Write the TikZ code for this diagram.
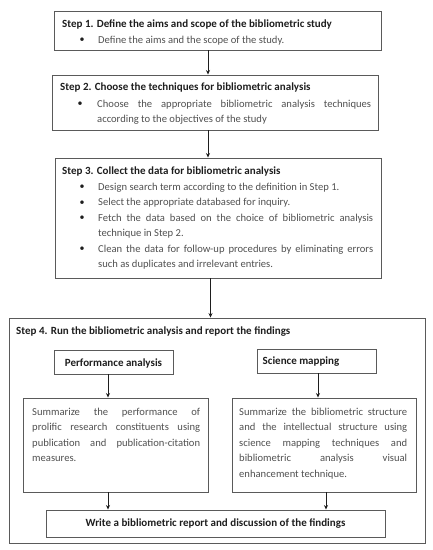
\documentclass[tikz,border=0pt]{standalone}
\usepackage{fontspec}
\setmainfont{Carlito}
\usetikzlibrary{arrows.meta}
\definecolor{bordergray}{HTML}{5A5A5A}
\definecolor{bodygray}{HTML}{505050}
\definecolor{headdark}{HTML}{1E1E1E}
\newcommand{\nohyph}{\hyphenpenalty=10000\relax\exhyphenpenalty=10000\relax}
\tikzset{
  box/.style={draw=bordergray, line width=0.9pt, inner sep=0pt},
  head/.style={anchor=base west, inner sep=0pt, text=headdark, font=\fontsize{11}{15.5}\selectfont\bfseries},
  body/.style={anchor=north west, inner sep=0pt, text=bodygray, align=justify, font=\fontsize{10.6}{15.5}\selectfont\nohyph},
  bul/.style={anchor=base, inner sep=0pt, text=headdark, font=\fontsize{10}{15.5}\selectfont},
  arr/.style={draw=headdark, line width=0.8pt, -{Stealth[length=4.5pt,width=4pt]}}
}
\newcommand{\boxat}[5]{\node[box, minimum width={#4-#2}, minimum height={#5-#3}] (#1) at ({(#2+#4)/2},{(#3+#5)/2}) {};}
\begin{document}
\begin{tikzpicture}[x=1pt,y=-1pt]
\useasboundingbox (0,0) rectangle (432,550);
% boxes
\boxat{b1}{54}{11}{381}{50}
\boxat{b2}{52}{75}{378}{130}
\boxat{b3}{55}{158}{381}{278}
\boxat{b4}{9}{318}{425}{543}
\boxat{pa}{54}{350}{173}{374}
\boxat{sm}{257}{349}{376}{373}
\boxat{ls}{23}{398}{208}{492}
\boxat{rs}{232}{398}{416}{492}
\boxat{wr}{46}{510}{385}{537}
% box 1
\node[head] (h1) at (62,27.8) {Step 1. Define the aims and scope of the bibliometric study};
\node[bul] (u11) at (82,42.5) {\textbullet};
\node[body, text width=275pt] (t11) at (98,32) {\strut Define the aims and the scope of the study.};
% box 2
\node[head] (h2) at (60,90.8) {Step 2. Choose the techniques for bibliometric analysis};
\node[bul] (u21) at (80,106.5) {\textbullet};
\node[body, text width=274pt] (t21) at (97,96) {\strut Choose the appropriate bibliometric analysis techniques\linebreak according to the objectives of the study};
% box 3
\node[head] (h3) at (62,174.5) {Step 3. Collect the data for bibliometric analysis};
\node[bul] (u31) at (82,189.5) {\textbullet};
\node[body, text width=275pt] (t31) at (98,179) {\strut Design search term according to the definition in Step 1.};
\node[bul] (u32) at (82,205) {\textbullet};
\node[body, text width=275pt] (t32) at (98,194.5) {\strut Select the appropriate databased for inquiry.};
\node[bul] (u33) at (82,220.5) {\textbullet};
\node[body, text width=275pt] (t33) at (98,210) {\strut Fetch the data based on the choice of bibliometric analysis\linebreak technique in Step 2.};
\node[bul] (u34) at (82,251.5) {\textbullet};
\node[body, text width=275pt] (t34) at (98,241) {\strut Clean the data for follow-up procedures by eliminating errors\linebreak such as duplicates and irrelevant entries.};
% box 4
\node[head] (h4) at (16,334.8) {Step 4. Run the bibliometric analysis and report the findings};
\node[head, anchor=base] (pat) at (113.5,366.8) {Performance analysis};
\node[head, anchor=base] (smt) at (301,364.8) {Science mapping};
\node[body, text width=168pt] (lst) at (32,404) {\strut Summarize the performance of\linebreak prolific research constituents using\linebreak publication and publication-citation\linebreak measures.};
\node[body, text width=168pt] (rst) at (239,404) {\strut Summarize the bibliometric structure\linebreak and the intellectual structure using\linebreak science mapping techniques and\linebreak bibliometric analysis visual\linebreak enhancement technique.};
\node[head, anchor=base] (wrt) at (215.5,526.8) {Write a bibliometric report and discussion of the findings};
% connector x positions
\coordinate (xa) at (208,0);
\coordinate (xb) at (210.5,0);
\coordinate (xl) at (108,0);
\coordinate (xr) at (318,0);
\coordinate (xr2) at (326,0);
\draw[arr] (b1.south -| xa) -- (b2.north -| xa);
\draw[arr] (b2.south -| xa) -- (b3.north -| xa);
\draw[arr] (b3.south -| xb) -- (b4.north -| xb);
\draw[arr] (pa.south -| xl) -- (ls.north -| xl);
\draw[arr] (sm.south -| xr) -- (rs.north -| xr);
\draw[arr] (ls.south -| xl) -- (wr.north -| xl);
\draw[arr] (rs.south -| xr2) -- (wr.north -| xr2);
\end{tikzpicture}
\end{document}
